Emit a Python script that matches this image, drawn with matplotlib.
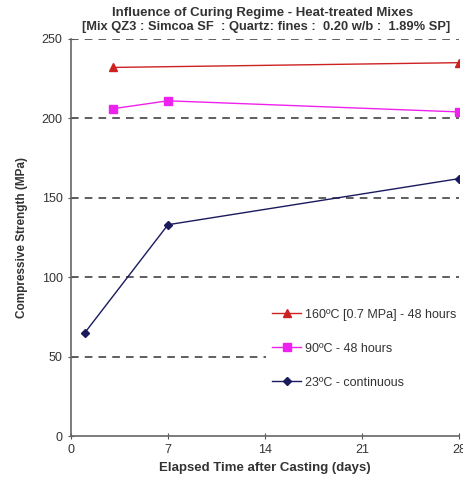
import matplotlib
matplotlib.use("Agg")
import matplotlib.pyplot as plt

plt.rcParams['font.family'] = ['Liberation Sans', 'DejaVu Sans']

# data
days_160 = [3, 28]
str_160 = [232, 235]
days_90 = [3, 7, 28]
str_90 = [206, 211, 204]
days_23 = [1, 7, 28]
str_23 = [65, 133, 162]

x_ticks = [0, 7, 14, 21, 28]
y_ticks = [0, 50, 100, 150, 200, 250]

fig = plt.figure(figsize=(4.64, 4.82), dpi=100)
ax = fig.add_axes([0.153, 0.0954, 0.836, 0.824])

for y in y_ticks[1:]:
    ax.axhline(y, color='#333333', lw=1.1, ls=(0, (5, 4)), zorder=0)

ax.plot(days_160, str_160, color='#cc2222', lw=1, marker='^', ms=5.5,
        label='160\u00baC [0.7 MPa] - 48 hours')
ax.plot(days_90, str_90, color='#ee22ee', lw=1, marker='s', ms=5.5,
        label='90\u00baC - 48 hours')
ax.plot(days_23, str_23, color='#1a1a5e', lw=1, marker='D', ms=4,
        label='23\u00baC - continuous')

ax.set_xlim(0, 28)
ax.set_ylim(0, 250)
ax.set_xticks(x_ticks)
ax.set_yticks(y_ticks)
ax.tick_params(direction='inout', length=5, labelsize=9, colors='#555555',
               labelcolor='#333333')
for s in ['top', 'right']:
    ax.spines[s].set_visible(False)
for s in ['left', 'bottom']:
    ax.spines[s].set_color('#666666')
    ax.spines[s].set_linewidth(1.2)

ax.set_xlabel('Elapsed Time after Casting (days)', fontsize=9.5, fontweight='bold',
              color='#333333', labelpad=4)
ax.set_ylabel('Compressive Strength (MPa)', fontsize=8.5, fontweight='bold',
              color='#333333', labelpad=10)
fig.text(0.565, 0.974, 'Influence of Curing Regime - Heat-treated Mixes',
         ha='center', va='center', fontsize=9.5, fontweight='bold', color='#333333')
fig.text(0.573, 0.944, '[Mix QZ3 : Simcoa SF  : Quartz: fines :  0.20 w/b :  1.89% SP]',
         ha='center', va='center', fontsize=9.3, fontweight='bold', color='#333333')

leg = ax.legend(loc='center left', bbox_to_anchor=(0.503, 0.22), frameon=True,
                fontsize=9, labelspacing=1.75, handlelength=2.3, handletextpad=0.3,
                labelcolor='#333333', fancybox=False, borderpad=0.5,
                borderaxespad=0)
leg.get_frame().set_facecolor('white')
leg.get_frame().set_edgecolor('none')
leg.get_frame().set_alpha(1)

fig.savefig('out.png', dpi=100)
